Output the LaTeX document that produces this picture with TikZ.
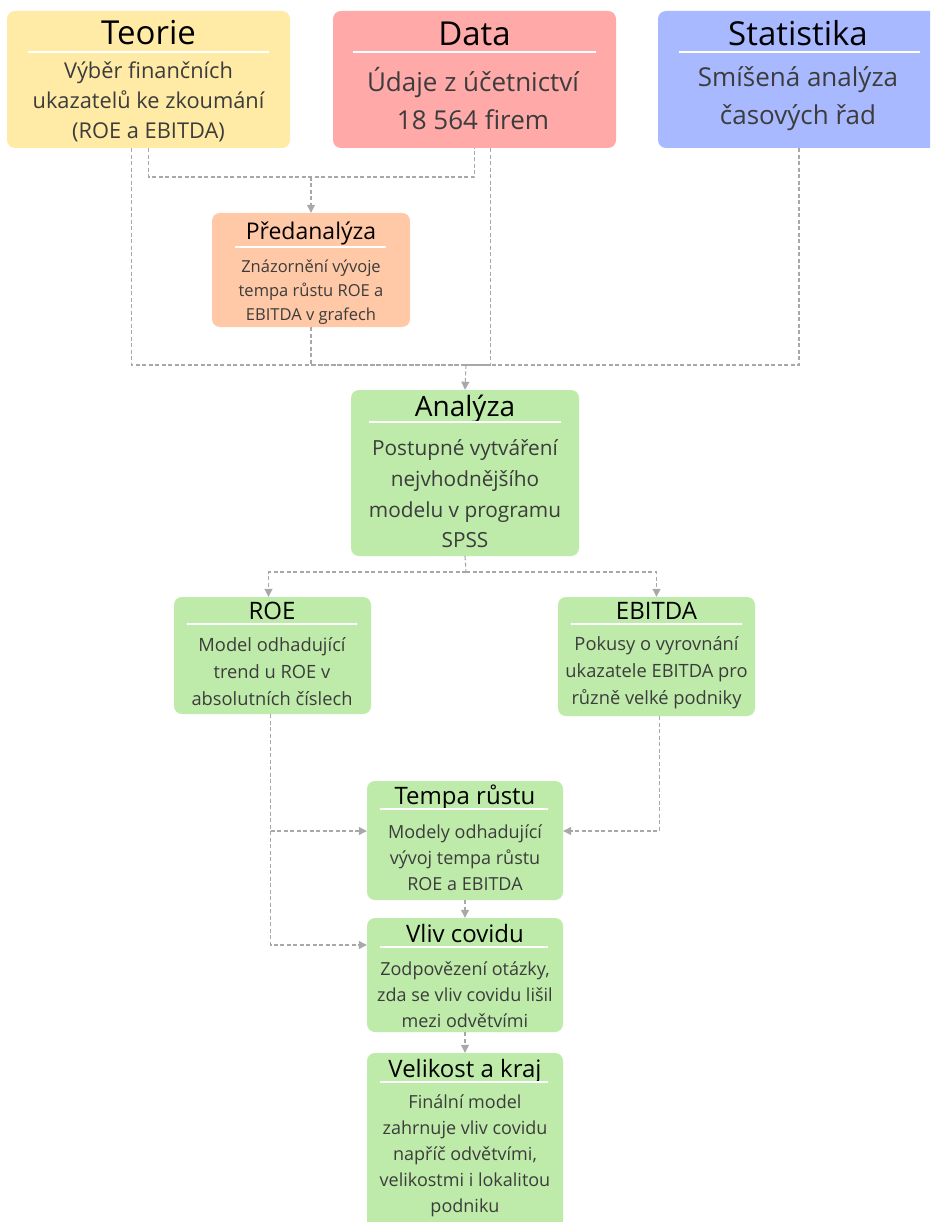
\documentclass[tikz,border=0pt]{standalone}
\usepackage{fontspec}
\setmainfont{Open Sans}
\usetikzlibrary{arrows.meta,calc}
\definecolor{cteo}{HTML}{FFEBA6}
\definecolor{cdat}{HTML}{FFA9A9}
\definecolor{csta}{HTML}{A9B9FF}
\definecolor{cpre}{HTML}{FFC8A6}
\definecolor{cgrn}{HTML}{BEEBA9}
\definecolor{cline}{HTML}{A8A8A8}
\definecolor{cbody}{HTML}{3C3C3C}
\begin{document}
\begin{tikzpicture}[x=1pt,y=-1pt,
  box/.style={rounded corners=8pt, draw=none, inner sep=0pt},
  ttl/.style={anchor=base, inner sep=0pt, text=black},
  bdy/.style={align=center, inner sep=0pt, text=cbody},
  wl/.style={white, line width=2.2pt},
  conn/.style={draw=cline, dashed, dash pattern=on 4pt off 2.5pt, line width=1.1pt},
  arr/.style={conn, -{Triangle[width=8pt,length=8pt]}, cline}
]
\clip (0,0) rectangle (930,1222);
\fill[white] (0,0) rectangle (930,1222);
\useasboundingbox (0,0) rectangle (930,1222);

% --- top row
\node[box, fill=cteo, minimum width=283pt, minimum height=137pt] (teo) at (148.5,79.5) {};
\node[ttl, font=\fontsize{33}{40}\selectfont] (teoT) at (148.5,45) {Teorie};
\draw[wl] (28,52) -- (269,52);
\node[bdy, font=\fontsize{21.8}{30}\selectfont] (teoB) at (148.5,101.5) {Výběr finančních\\ukazatelů ke zkoumání\\(ROE a EBITDA)};

\node[box, fill=cdat, minimum width=283pt, minimum height=137pt] (dat) at (474.5,79.5) {};
\node[ttl, font=\fontsize{33}{40}\selectfont] (datT) at (474.5,45.5) {Data};
\draw[wl] (353,52) -- (596,52);
\node[bdy, font=\fontsize{26}{38}\selectfont] (datB) at (473,99) {Údaje z účetnictví\\18 564 firem};

\node[box, fill=csta, minimum width=282pt, minimum height=137pt] (sta) at (799,79.5) {};
\node[ttl, font=\fontsize{33}{40}\selectfont] (staT) at (798,45.5) {Statistika};
\draw[wl] (679,52) -- (920,52);
\node[bdy, font=\fontsize{26}{38}\selectfont] (staB) at (798,99) {Smíšená analýza\\časových řad};

% --- Předanalýza
\node[box, fill=cpre, minimum width=198pt, minimum height=114pt] (pre) at (311,270) {};
\node[ttl, font=\fontsize{23}{26}\selectfont] (preT) at (311,240) {Předanalýza};
\draw[wl] (235,247) -- (386,247);
\node[bdy, font=\fontsize{16.5}{24}\selectfont] (preB) at (311,292) {Znázornění vývoje\\tempa růstu ROE a\\EBITDA v grafech};

% --- Analýza
\node[box, fill=cgrn, minimum width=228pt, minimum height=166pt] (ana) at (465,473) {};
\node[ttl, font=\fontsize{28}{30}\selectfont] (anaT) at (465,416.5) {Analýza};
\draw[wl] (369,422) -- (561,422);
\node[bdy, font=\fontsize{20.8}{30.7}\selectfont] (anaB) at (465,494) {Postupné vytváření\\nejvhodnějšího\\modelu v programu\\SPSS};

% --- ROE, EBITDA
\node[box, fill=cgrn, minimum width=197pt, minimum height=117pt] (roe) at (272.5,655.5) {};
\node[ttl, font=\fontsize{24}{26}\selectfont] (roeT) at (272,619) {ROE};
\draw[wl] (187,624) -- (357,624);
\node[bdy, font=\fontsize{18.3}{27}\selectfont] (roeB) at (272,672) {Model odhadující\\trend u ROE v\\absolutních číslech};

\node[box, fill=cgrn, minimum width=197pt, minimum height=119pt] (ebi) at (656.5,656.5) {};
\node[ttl, font=\fontsize{24}{26}\selectfont] (ebiT) at (656.5,619) {EBITDA};
\draw[wl] (571,624) -- (742,624);
\node[bdy, font=\fontsize{18.3}{27}\selectfont] (ebiB) at (656.5,673) {Pokusy o vyrovnání\\ukazatele EBITDA pro\\různě velké podniky};

% --- Tempa růstu
\node[box, fill=cgrn, minimum width=196pt, minimum height=119pt] (tem) at (465,840.5) {};
\node[ttl, font=\fontsize{24}{26}\selectfont] (temT) at (465,804) {Tempa růstu};
\draw[wl] (380,809) -- (548,809);
\node[bdy, font=\fontsize{18}{26}\selectfont] (temB) at (465,858) {Modely odhadující\\vývoj tempa růstu\\ROE a EBITDA};

% --- Vliv covidu
\node[box, fill=cgrn, minimum width=196pt, minimum height=114pt] (vli) at (465,975) {};
\node[ttl, font=\fontsize{24}{26}\selectfont] (vliT) at (465,942) {Vliv covidu};
\draw[wl] (380,947) -- (548,947);
\node[bdy, font=\fontsize{18}{26}\selectfont] (vliB) at (465,995) {Zodpovězení otázky,\\zda se vliv covidu lišil\\mezi odvětvími};

% --- Velikost a kraj
\node[box, fill=cgrn, minimum width=196pt, minimum height=190pt] (vel) at (465,1148) {};
\node[ttl, font=\fontsize{24}{26}\selectfont] (velT) at (465,1077) {Velikost a kraj};
\draw[wl] (380,1082) -- (548,1082);
\node[bdy, font=\fontsize{18}{26}\selectfont] (velB) at (465,1156) {Finální model\\zahrnuje vliv covidu\\napříč odvětvími,\\velikostmi i lokalitou\\podniku};

% --- connectors
\coordinate (m1) at (311,177);
\coordinate (m2) at (466,365);
\coordinate (m3) at (466,572);
\coordinate (ya) at (0,831);
\coordinate (yb) at (0,945);

\draw[conn] (teo.south) |- (m1) -| (dat.south);
\draw[arr] (m1) -- (pre.north);

\draw[conn] ([xshift=-17pt]teo.south) |- (m2);
\draw[conn] ([xshift=16pt]dat.south) |- (m2);
\draw[conn] (sta.south) |- (m2);
\draw[conn] (pre.south) |- (m2);
\draw[arr] (m2) -- (ana.north);

\draw[conn] (ana.south) -- (m3);
\draw[arr] (m3) -| ([xshift=-4pt]roe.north);
\draw[arr] (m3) -| (ebi.north);

\draw[arr] ([xshift=-2pt]roe.south) |- (tem.west |- ya);
\draw[arr] ([xshift=-2pt]roe.south) |- (vli.west |- yb);
\draw[arr] ([xshift=3pt]ebi.south) |- (tem.east |- ya);

\draw[arr] (tem.south) -- (vli.north);
\draw[arr] (vli.south) -- (vel.north);
\end{tikzpicture}
\end{document}
